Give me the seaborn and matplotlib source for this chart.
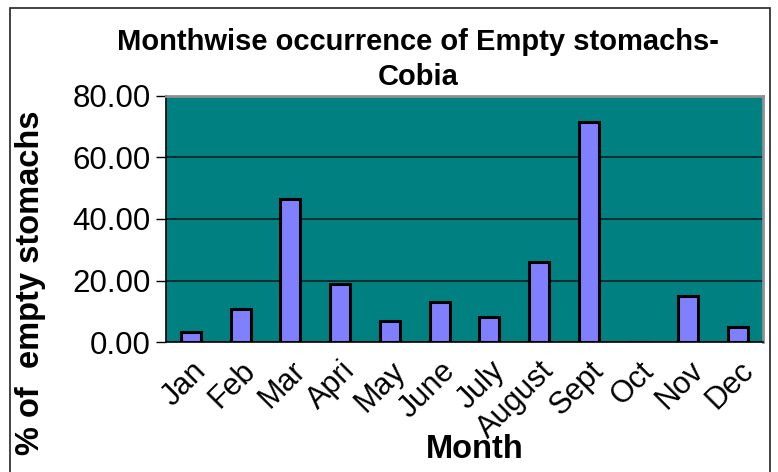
import numpy as np
import pandas as pd
import matplotlib
matplotlib.use('Agg')
import matplotlib.pyplot as plt
import seaborn as sns
from matplotlib.patches import Rectangle

# Data
months = ['Jan', 'Feb', 'Mar', 'Apri', 'May', 'June', 'July', 'August',
          'Sept', 'Oct', 'Nov', 'Dec']
pct_empty = [3.4, 10.7, 46.4, 18.7, 6.7, 12.9, 8.2, 26.1, 71.4, 0.0, 14.8, 4.8]
yticks = [0, 20, 40, 60, 80]

df = pd.DataFrame({'Month': months, 'Pct': pct_empty})

sns.set_style('white')
plt.rcParams['font.family'] = ['Liberation Sans', 'DejaVu Sans']
plt.rcParams['text.color'] = 'black'
plt.rcParams['axes.labelcolor'] = 'black'
plt.rcParams['xtick.color'] = 'black'
plt.rcParams['ytick.color'] = 'black'

W, H = 778, 472
fig = plt.figure(figsize=(W / 100, H / 100), dpi=100)

# outer chart frame
fig.patches.append(Rectangle((10 / W, -0.1), (770 - 10) / W, 1.1 - 8 / H,
                             transform=fig.transFigure, fill=False,
                             edgecolor='#222222', linewidth=1.2))

left, right, top, bottom = 166, 763, 96, 342
ax = fig.add_axes([left / W, 1 - bottom / H, (right - left) / W, (bottom - top) / H])
ax.set_facecolor('#008080')

sns.barplot(data=df, x='Month', y='Pct', ax=ax, color='#8080FF',
            saturation=1, width=0.4, edgecolor='black', linewidth=2.2)

ax.set_ylim(0, 80)
ax.set_xlim(-0.5, 11.5)
ax.set_yticks(yticks)
ax.set_yticklabels([f'{v:.2f}' for v in yticks], fontsize=22.5)
ax.yaxis.grid(True, color='#002020', linewidth=1.2)
ax.set_axisbelow(True)

# category ticks at boundaries, labels at centres
ax.set_xticks(np.arange(len(months)))
ax.set_xticklabels(months, rotation=45, ha='right', rotation_mode='anchor', fontsize=22)
ax.set_xticks(np.arange(-0.5, len(months)), minor=True)
ax.tick_params(axis='x', which='major', length=0, pad=10)
ax.tick_params(axis='x', which='minor', length=7, width=1, color='black', direction='out')
ax.tick_params(axis='y', length=7, width=1, color='black', direction='out', pad=4, left=True)

for s in ['left', 'bottom']:
    ax.spines[s].set_color('black')
    ax.spines[s].set_linewidth(1.2)
for s in ['top', 'right']:
    ax.spines[s].set_color('#909090')
    ax.spines[s].set_linewidth(2)

ax.set_xlabel('Month', fontsize=23.5, fontweight='bold')
ax.set_ylabel('% of  empty stomachs', fontsize=23.5, fontweight='bold')
ax.xaxis.set_label_coords((475 - left) / (right - left), -(434 - bottom) / (bottom - top))
ax.yaxis.set_label_coords(-(166 - 46) / (right - left), (bottom - 283) / (bottom - top))

fig.text(418 / W, 1 - 42 / H, 'Monthwise occurrence of Empty stomachs-',
         ha='center', va='center', fontsize=21, fontweight='bold')
fig.text(418 / W, 1 - 77 / H, 'Cobia', ha='center', va='center',
         fontsize=21, fontweight='bold')

fig.savefig('out.png', dpi=100)
